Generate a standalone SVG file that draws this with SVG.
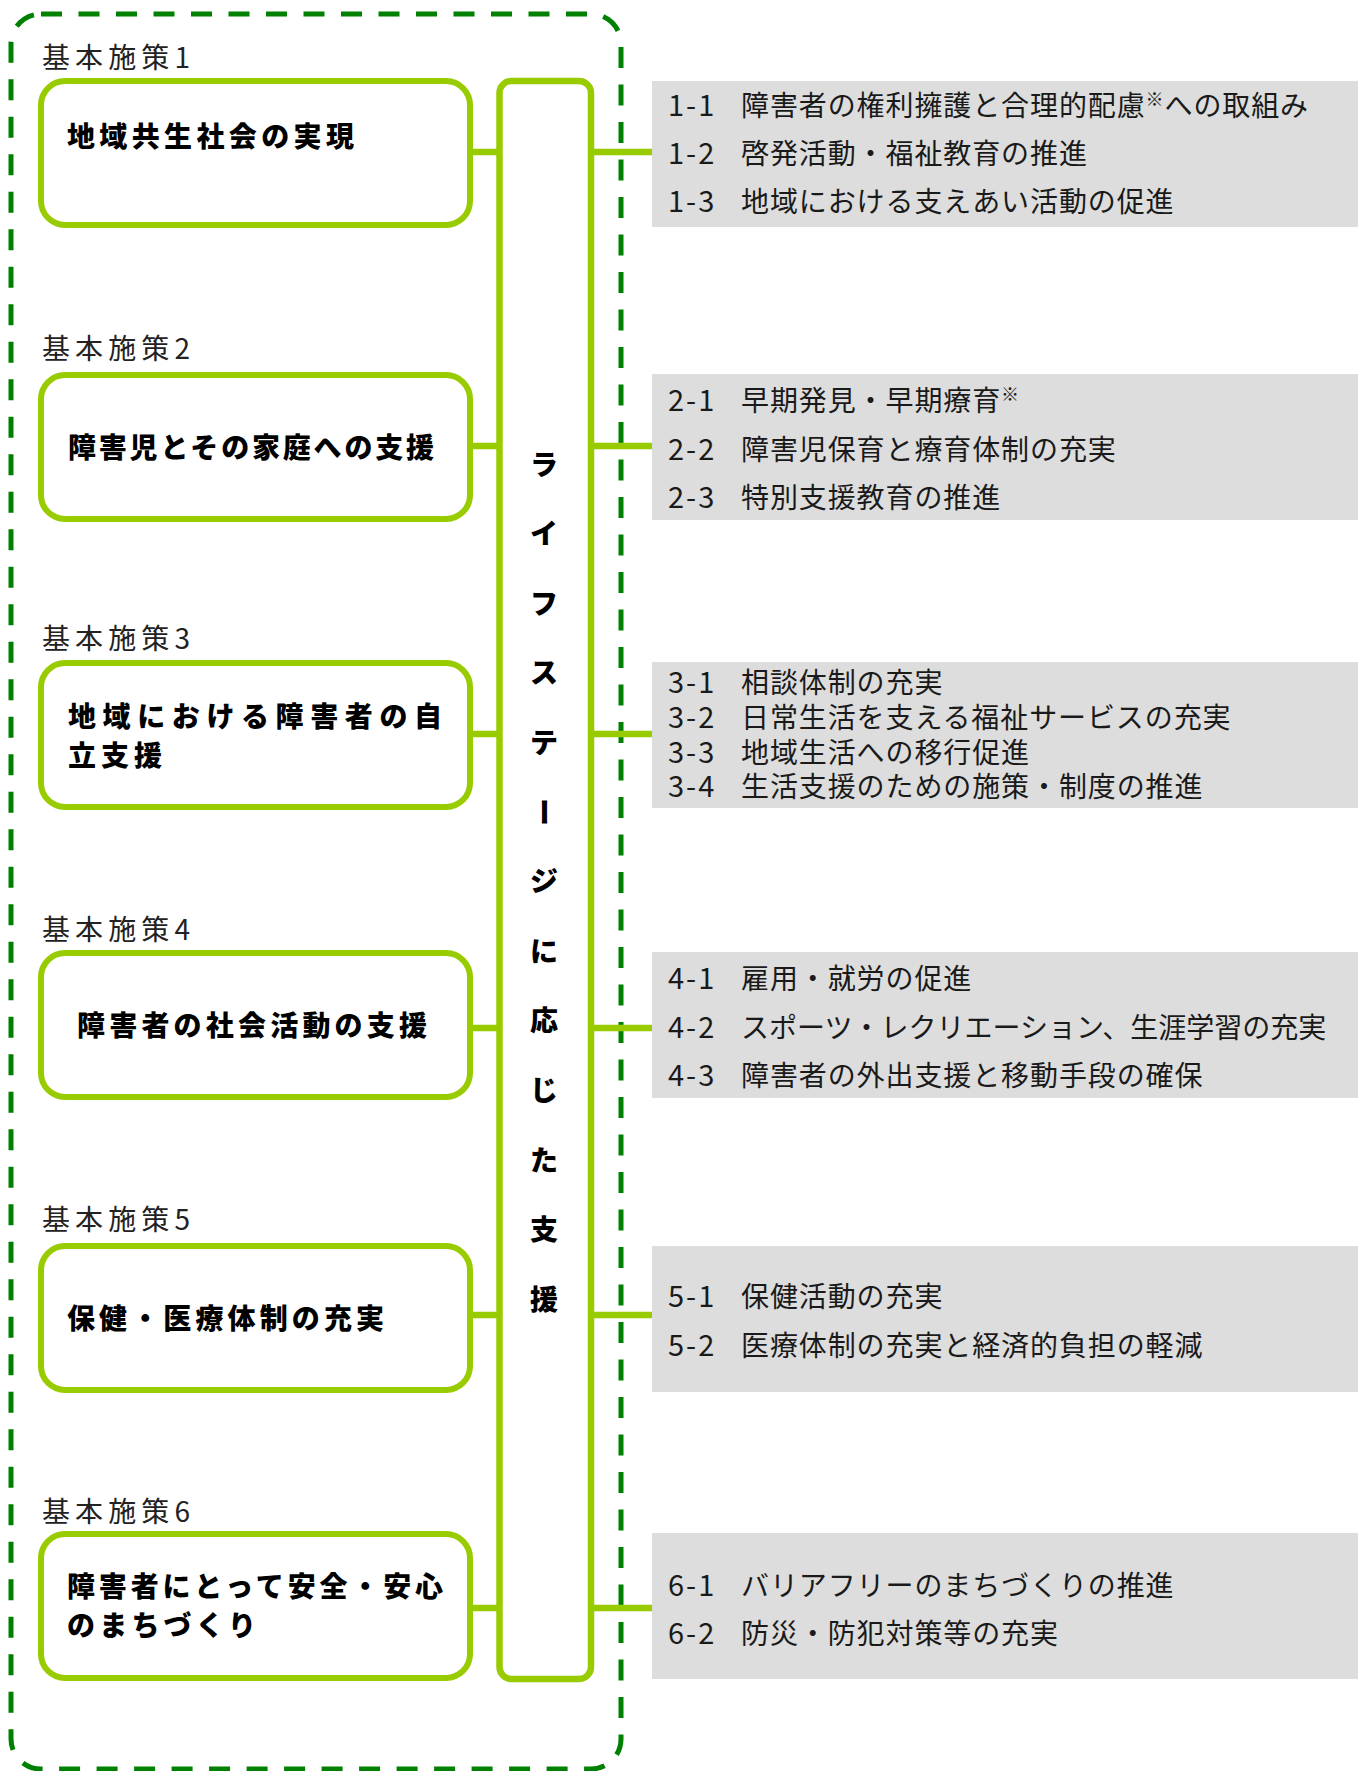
<svg xmlns="http://www.w3.org/2000/svg" width="1358" height="1771" viewBox="0 0 1358 1771">
<style>
.frame{fill:none;stroke:#008000;stroke-width:5;stroke-dasharray:21 16.5}
.box{fill:#fff;stroke:#99CC00;stroke-width:6}
.col{fill:#fff;stroke:#99CC00;stroke-width:6.5}
.conn{stroke:#99CC00;stroke-width:6.5;fill:none}
.gray{fill:#DDDDDD}
.lbl{font-family:"Noto Sans CJK JP","Noto Sans",sans-serif;font-size:28px;fill:#222}
.ttl{font-family:"Noto Sans CJK JP","Noto Sans",sans-serif;font-size:28px;font-weight:900;fill:#000}
.num{font-family:"Noto Sans CJK JP","Noto Sans",sans-serif;font-size:29px;fill:#1a1a1a;letter-spacing:2px}
.itm{font-family:"Noto Sans CJK JP","Noto Sans",sans-serif;font-size:28px;fill:#1a1a1a;letter-spacing:0.9px}
.tight{letter-spacing:0px}
.sup{font-size:18px}
.vt{font-family:"Noto Sans CJK JP","Noto Sans",sans-serif;font-size:28px;font-weight:900;fill:#000;text-anchor:middle}
</style>

<g id="frame">
<rect class="frame" x="11" y="14" width="610" height="1755" rx="30"/>
</g>

<g id="lifestage">
<rect class="col" x="499.5" y="81" width="91.5" height="1598" rx="12"/>
<text class="vt" x="544" y="474.6">ラ</text>
<text class="vt" x="544" y="544.2">イ</text>
<text class="vt" x="544" y="613.8">フ</text>
<text class="vt" x="544" y="683.4">ス</text>
<text class="vt" x="544" y="753">テ</text>
<text class="vt" x="544" y="822.6" transform="rotate(90 544 812)">ー</text>
<text class="vt" x="544" y="892.2">ジ</text>
<text class="vt" x="544" y="961.8">に</text>
<text class="vt" x="544" y="1031.4">応</text>
<text class="vt" x="544" y="1101">じ</text>
<text class="vt" x="544" y="1170.6">た</text>
<text class="vt" x="544" y="1240.2">支</text>
<text class="vt" x="544" y="1309.8">援</text>
</g>

<g id="policy1">
<text class="lbl" x="42" y="67.6" textLength="148">基本施策1</text>
<rect class="box" x="41" y="81" width="429" height="144" rx="24"/>
<text class="ttl" x="67" y="146.6" textLength="287">地域共生社会の実現</text>
</g>
<g id="policy2">
<text class="lbl" x="42" y="358.6" textLength="148">基本施策2</text>
<rect class="box" x="41" y="375" width="429" height="144" rx="24"/>
<text class="ttl" x="68" y="457.6" textLength="366">障害児とその家庭への支援</text>
</g>
<g id="policy3">
<text class="lbl" x="42" y="648.6" textLength="148">基本施策3</text>
<rect class="box" x="41" y="663" width="429" height="144" rx="24"/>
<text class="ttl" x="68" y="726.6" textLength="374">地域における障害者の自</text>
<text class="ttl" x="68" y="765.6" textLength="94">立支援</text>
</g>
<g id="policy4">
<text class="lbl" x="42" y="939.6" textLength="148">基本施策4</text>
<rect class="box" x="41" y="953" width="429" height="144" rx="24"/>
<text class="ttl" x="77" y="1035.6" textLength="350">障害者の社会活動の支援</text>
</g>
<g id="policy5">
<text class="lbl" x="42" y="1229.6" textLength="148">基本施策5</text>
<rect class="box" x="41" y="1246" width="429" height="144" rx="24"/>
<text class="ttl" x="67" y="1328.6" textLength="317">保健・医療体制の充実</text>
</g>
<g id="policy6">
<text class="lbl" x="42" y="1521.6" textLength="148">基本施策6</text>
<rect class="box" x="41" y="1534" width="429" height="144" rx="24"/>
<text class="ttl" x="67" y="1596.6" textLength="376">障害者にとって安全・安心</text>
<text class="ttl" x="67" y="1635.6" textLength="189">のまちづくり</text>
</g>

<g id="items1">
<rect class="gray" x="652" y="81" width="706" height="146"/>
<text class="num" x="668" y="115.6">1-1</text>
<text class="itm" x="741" y="115.6">障害者の権利擁護と合理的配慮<tspan class="sup" dy="-10">※</tspan><tspan dy="10">への取組み</tspan></text>
<text class="num" x="668" y="163.6">1-2</text>
<text class="itm" x="741" y="163.6">啓発活動・福祉教育の推進</text>
<text class="num" x="668" y="211.6">1-3</text>
<text class="itm" x="741" y="211.6">地域における支えあい活動の促進</text>
</g>
<g id="items2">
<rect class="gray" x="652" y="374" width="706" height="146"/>
<text class="num" x="668" y="410.6">2-1</text>
<text class="itm" x="741" y="410.6">早期発見・早期療育<tspan class="sup" dy="-10">※</tspan></text>
<text class="num" x="668" y="459.6">2-2</text>
<text class="itm" x="741" y="459.6">障害児保育と療育体制の充実</text>
<text class="num" x="668" y="507.6">2-3</text>
<text class="itm" x="741" y="507.6">特別支援教育の推進</text>
</g>
<g id="items3">
<rect class="gray" x="652" y="662" width="706" height="146"/>
<text class="num" x="668" y="692.6">3-1</text>
<text class="itm" x="741" y="692.6">相談体制の充実</text>
<text class="num" x="668" y="727.6">3-2</text>
<text class="itm" x="741" y="727.6">日常生活を支える福祉サービスの充実</text>
<text class="num" x="668" y="762.6">3-3</text>
<text class="itm" x="741" y="762.6">地域生活への移行促進</text>
<text class="num" x="668" y="796.6">3-4</text>
<text class="itm" x="741" y="796.6">生活支援のための施策・制度の推進</text>
</g>
<g id="items4">
<rect class="gray" x="652" y="952" width="706" height="146"/>
<text class="num" x="668" y="988.6">4-1</text>
<text class="itm" x="741" y="988.6">雇用・就労の促進</text>
<text class="num" x="668" y="1037.6">4-2</text>
<text class="itm tight" x="741" y="1037.6">スポーツ・レクリエーション、生涯学習の充実</text>
<text class="num" x="668" y="1085.6">4-3</text>
<text class="itm" x="741" y="1085.6">障害者の外出支援と移動手段の確保</text>
</g>
<g id="items5">
<rect class="gray" x="652" y="1246" width="706" height="146"/>
<text class="num" x="668" y="1306.6">5-1</text>
<text class="itm" x="741" y="1306.6">保健活動の充実</text>
<text class="num" x="668" y="1355.6">5-2</text>
<text class="itm" x="741" y="1355.6">医療体制の充実と経済的負担の軽減</text>
</g>
<g id="items6">
<rect class="gray" x="652" y="1533" width="706" height="146"/>
<text class="num" x="668" y="1595.6">6-1</text>
<text class="itm" x="741" y="1595.6">バリアフリーのまちづくりの推進</text>
<text class="num" x="668" y="1643.6">6-2</text>
<text class="itm" x="741" y="1643.6">防災・防犯対策等の充実</text>
</g>

<g id="connectors">
<path class="conn" d="M470 152H499.5M591 152H652"/>
<path class="conn" d="M470 446H499.5M591 446H652"/>
<path class="conn" d="M470 734H499.5M591 734H652"/>
<path class="conn" d="M470 1028H499.5M591 1028H652"/>
<path class="conn" d="M470 1315H499.5M591 1315H652"/>
<path class="conn" d="M470 1608H499.5M591 1608H652"/>
</g>
</svg>
